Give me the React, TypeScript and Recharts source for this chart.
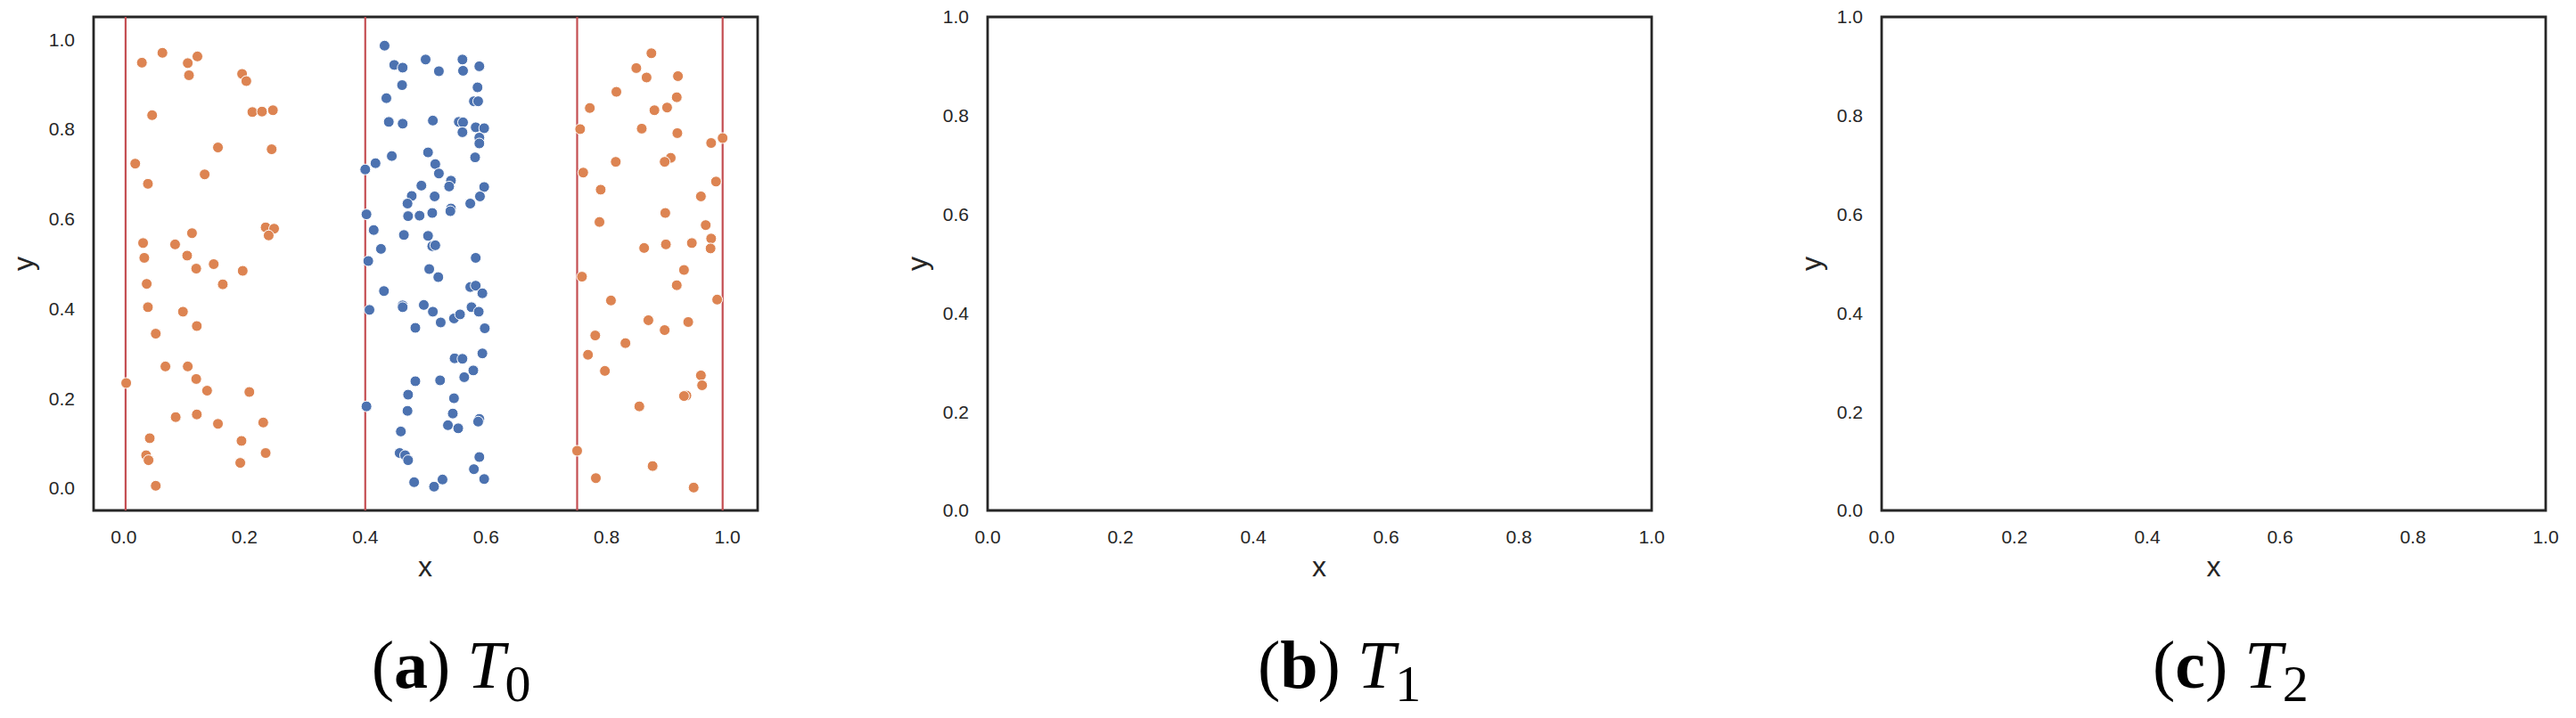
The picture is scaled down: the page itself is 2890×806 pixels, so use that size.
import React from 'react';
import { ScatterChart, Scatter, XAxis, YAxis, ReferenceLine, ReferenceArea } from 'recharts';

// tick values shared by all three panels
const ticks = [0, 0.2, 0.4, 0.6, 0.8, 1.0];

// vertical split lines of T0
const splitLines = [0.003, 0.4, 0.751, 0.992];

// orange points, left block of T0 [x, y]
const orangeLeft: [number, number][] = [
  [0.064, 0.970], [0.030, 0.948], [0.106, 0.947], [0.122, 0.962], [0.108, 0.920],
  [0.196, 0.923], [0.203, 0.907], [0.047, 0.831], [0.213, 0.838], [0.229, 0.839],
  [0.247, 0.842], [0.156, 0.759], [0.245, 0.755], [0.019, 0.723], [0.134, 0.699],
  [0.040, 0.678], [0.235, 0.581], [0.249, 0.578], [0.240, 0.563], [0.113, 0.568],
  [0.032, 0.546], [0.085, 0.543], [0.034, 0.513], [0.105, 0.518], [0.120, 0.489],
  [0.149, 0.499], [0.197, 0.484], [0.038, 0.455], [0.164, 0.454], [0.040, 0.403],
  [0.098, 0.393], [0.121, 0.361], [0.053, 0.344], [0.069, 0.271], [0.106, 0.271],
  [0.004, 0.234], [0.120, 0.243], [0.138, 0.217], [0.208, 0.214], [0.086, 0.158],
  [0.121, 0.164], [0.156, 0.143], [0.231, 0.146], [0.043, 0.111], [0.195, 0.105],
  [0.037, 0.073], [0.041, 0.062], [0.235, 0.078], [0.193, 0.056], [0.053, 0.005],
];

// orange points, right block of T0
const orangeRight: [number, number][] = [
  [0.874, 0.969], [0.849, 0.936], [0.866, 0.915], [0.918, 0.918], [0.816, 0.883],
  [0.916, 0.871], [0.772, 0.847], [0.879, 0.842], [0.900, 0.848], [0.756, 0.800],
  [0.858, 0.801], [0.917, 0.791], [0.973, 0.769], [0.992, 0.780], [0.906, 0.736],
  [0.896, 0.727], [0.815, 0.727], [0.761, 0.703], [0.981, 0.683], [0.790, 0.665],
  [0.956, 0.650], [0.897, 0.613], [0.788, 0.593], [0.964, 0.586], [0.973, 0.556],
  [0.972, 0.534], [0.941, 0.546], [0.898, 0.543], [0.862, 0.535], [0.759, 0.471],
  [0.928, 0.486], [0.916, 0.452], [0.983, 0.420], [0.807, 0.418], [0.869, 0.374],
  [0.896, 0.352], [0.935, 0.370], [0.781, 0.340], [0.831, 0.323], [0.769, 0.297],
  [0.797, 0.261], [0.956, 0.251], [0.958, 0.229], [0.932, 0.206], [0.928, 0.205],
  [0.854, 0.182], [0.751, 0.083], [0.876, 0.049], [0.782, 0.022], [0.944, 0.001],
];

// blue points, middle block of T0
const bluePoints: [number, number][] = [
  [0.432, 0.986], [0.448, 0.943], [0.462, 0.937], [0.500, 0.955], [0.522, 0.929],
  [0.561, 0.955], [0.562, 0.930], [0.589, 0.940], [0.461, 0.898], [0.586, 0.893],
  [0.435, 0.869], [0.580, 0.862], [0.587, 0.862], [0.439, 0.816], [0.462, 0.812],
  [0.512, 0.819], [0.555, 0.816], [0.562, 0.815], [0.561, 0.793], [0.583, 0.804],
  [0.597, 0.802], [0.589, 0.781], [0.589, 0.768], [0.582, 0.737], [0.444, 0.740],
  [0.417, 0.724], [0.400, 0.710], [0.504, 0.748], [0.516, 0.722], [0.522, 0.701],
  [0.542, 0.685], [0.539, 0.672], [0.597, 0.671], [0.493, 0.674], [0.477, 0.651],
  [0.515, 0.650], [0.590, 0.650], [0.470, 0.634], [0.574, 0.634], [0.542, 0.623],
  [0.541, 0.617], [0.402, 0.610], [0.471, 0.606], [0.490, 0.607], [0.511, 0.613],
  [0.414, 0.575], [0.464, 0.564], [0.504, 0.562], [0.511, 0.539], [0.516, 0.541],
  [0.426, 0.533], [0.405, 0.506], [0.583, 0.513], [0.506, 0.488], [0.521, 0.470],
  [0.574, 0.448], [0.583, 0.451], [0.594, 0.434], [0.431, 0.439], [0.462, 0.407],
  [0.462, 0.403], [0.407, 0.397], [0.497, 0.408], [0.512, 0.393], [0.525, 0.369],
  [0.547, 0.378], [0.557, 0.387], [0.576, 0.403], [0.588, 0.393], [0.483, 0.357],
  [0.598, 0.356], [0.594, 0.300], [0.548, 0.289], [0.561, 0.288], [0.579, 0.262],
  [0.564, 0.247], [0.483, 0.238], [0.524, 0.240], [0.471, 0.208], [0.402, 0.182],
  [0.470, 0.172], [0.547, 0.200], [0.545, 0.166], [0.589, 0.154], [0.587, 0.148],
  [0.537, 0.140], [0.554, 0.133], [0.459, 0.126], [0.457, 0.078], [0.466, 0.073],
  [0.471, 0.062], [0.589, 0.069], [0.580, 0.042], [0.597, 0.020], [0.481, 0.013],
  [0.528, 0.019], [0.514, 0.003],
];

const captions = [
  { label: 'a', sub: '0' },
  { label: 'b', sub: '1' },
  { label: 'c', sub: '2' },
];

const ORANGE = '#DD8452';
const BLUE = '#4C72B0';
const RED = '#C44E52';
const INK = '#262626';

const PLOT_W = 745;
const PLOT_H = 554;
const PLOT_TOP = 19;
const panelLeft = [104.5, 1107.5, 2111];
const captionX = [416.7, 1411, 2415];

const sansFont = "'Liberation Sans', Arial, Helvetica, sans-serif";
const serifFont = "'Liberation Serif', 'Times New Roman', serif";

const toXY = (pts: [number, number][]) => pts.map(([x, y]) => ({ x, y }));

const dot = (fill: string) => (p: any) => (
  <circle cx={p.cx} cy={p.cy} r={6} fill={fill} stroke="#ffffff" strokeWidth={1} />
);

const fmt = (v: number) => v.toFixed(1);

interface PanelProps {
  left: number;
  domain: [number, number];
  filled: boolean;
}

const Panel: React.FC<PanelProps> = ({ left, domain, filled }) => {
  const chartW = 100 + PLOT_W + 30;
  const chartH = 806;
  return (
    <div style={{ position: 'absolute', left: left - 100, top: 0 }}>
      <ScatterChart
        width={chartW}
        height={chartH}
        margin={{ top: PLOT_TOP, right: 30, left: 40, bottom: chartH - PLOT_TOP - PLOT_H - 60 }}
      >
        <XAxis
          type="number"
          dataKey="x"
          domain={domain}
          ticks={ticks}
          interval={0}
          allowDataOverflow
          height={60}
          tickSize={0}
          tickMargin={22}
          tickLine={false}
          axisLine={false}
          tickFormatter={fmt}
          tick={{ fontSize: 21, fill: INK, fontFamily: sansFont }}
        />
        <YAxis
          type="number"
          dataKey="y"
          domain={domain}
          ticks={ticks}
          interval={0}
          allowDataOverflow
          width={60}
          tickSize={0}
          tickMargin={21}
          tickLine={false}
          axisLine={false}
          tickFormatter={fmt}
          tick={{ fontSize: 21, fill: INK, fontFamily: sansFont }}
        />
        {filled &&
          splitLines.map((v) => (
            <ReferenceLine key={v} x={v} stroke={RED} strokeWidth={2.2} />
          ))}
        <Scatter
          data={filled ? toXY(orangeLeft) : []}
          shape={dot(ORANGE)}
          isAnimationActive={false}
        />
        <Scatter
          data={filled ? toXY(bluePoints) : []}
          shape={dot(BLUE)}
          isAnimationActive={false}
        />
        <Scatter
          data={filled ? toXY(orangeRight) : []}
          shape={dot(ORANGE)}
          isAnimationActive={false}
        />
        <ReferenceArea
          x1={domain[0]}
          x2={domain[1]}
          y1={domain[0]}
          y2={domain[1]}
          fill="none"
          stroke={INK}
          strokeWidth={2.8}
          ifOverflow="visible"
        />
      </ScatterChart>
    </div>
  );
};

export default function App() {
  return (
    <div style={{ position: 'absolute', left: 0, top: 0, width: 2890, height: 806, background: '#fff' }}>
      <Panel left={panelLeft[0]} domain={[-0.05, 1.05]} filled />
      <Panel left={panelLeft[1]} domain={[0, 1]} filled={false} />
      <Panel left={panelLeft[2]} domain={[0, 1]} filled={false} />
      <svg
        width={2890}
        height={806}
        style={{ position: 'absolute', left: 0, top: 0, pointerEvents: 'none' }}
      >
        {panelLeft.map((l, i) => (
          <g key={i}>
            <text
              x={l + PLOT_W / 2}
              y={647}
              textAnchor="middle"
              fontSize={32}
              fontFamily={sansFont}
              fill={INK}
            >
              x
            </text>
            <text
              transform={`translate(${l - 67.8},${PLOT_TOP + PLOT_H / 2}) rotate(-90)`}
              textAnchor="middle"
              fontSize={32}
              fontFamily={sansFont}
              fill={INK}
            >
              y
            </text>
            <text x={captionX[i]} y={772} fontSize={76} fontFamily={serifFont} fill="#000">
              {'('}
              <tspan fontWeight="bold">{captions[i].label}</tspan>
              {') '}
              <tspan fontStyle="italic">T</tspan>
              <tspan fontSize={58} dy={15}>{captions[i].sub}</tspan>
            </text>
          </g>
        ))}
      </svg>
    </div>
  );
}
